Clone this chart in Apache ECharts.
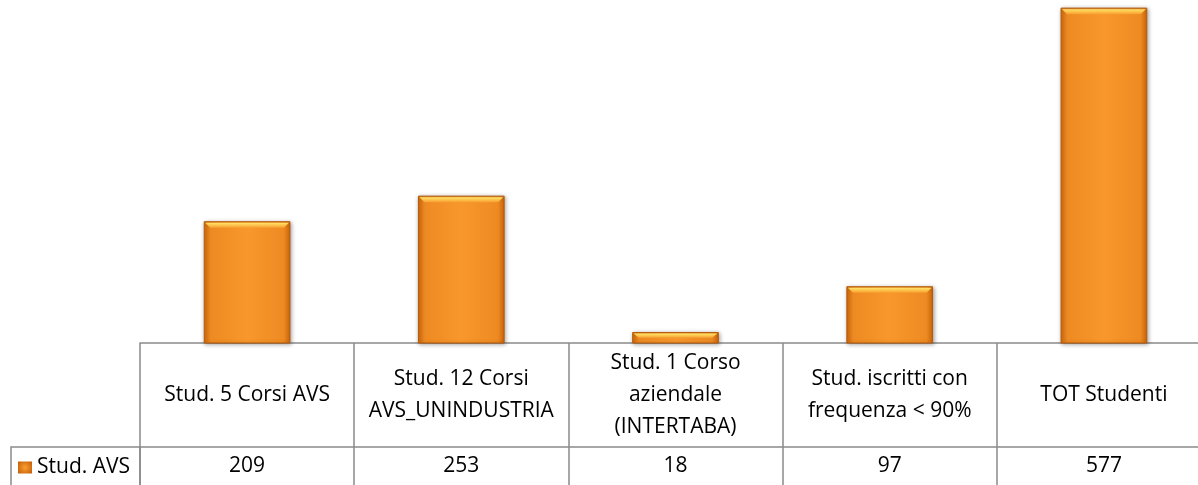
<!DOCTYPE html>
<html>
<head>
<meta charset="utf-8">
<script src="https://cdn.jsdelivr.net/npm/echarts@6/dist/echarts.min.js"></script>
<style>
  html, body { margin: 0; padding: 0; background: #fff; }
  #chart { width: 1198px; height: 485px; }
</style>
</head>
<body>
<div id="chart"></div>
<script>
// Header cells of the data table (Excel wraps them)
const categories = [
  'Stud. 5 Corsi AVS',
  'Stud. 12 Corsi\nAVS_UNINDUSTRIA',
  'Stud. 1 Corso\naziendale\n(INTERTABA)',
  'Stud. iscritti con\nfrequenza < 90%',
  'TOT Studenti'
];
const seriesName = 'Stud. AVS';
const values = [209, 253, 18, 97, 577];

const font = '"Open Sans", "Noto Sans", sans-serif';
const gridLine = '#8a8a8a';

const bodyFill = new echarts.graphic.LinearGradient(0, 0, 1, 0, [
  { offset: 0, color: '#D56C0E' },
  { offset: 0.08, color: '#EE8A22' },
  { offset: 0.5, color: '#F8982C' },
  { offset: 0.92, color: '#EE8A22' },
  { offset: 1, color: '#CF670B' }
]);
const bevelFill = new echarts.graphic.LinearGradient(0, 0, 0, 1, [
  { offset: 0, color: '#FFE66A' },
  { offset: 1, color: '#F9A030' }
]);
const iconFill = new echarts.graphic.RadialGradient(0.5, 0.5, 0.7, [
  { offset: 0, color: '#F9A030' },
  { offset: 1, color: '#C8600A' }
]);

// bar with a light bevel on top, positioned through the axes
function renderBar(params, api) {
  const cat = api.value(0);
  const val = api.value(1);
  const top = api.coord([cat, val]);
  const base = api.coord([cat, 0]);
  const w = api.size([1, 0])[0] * 0.4;
  const x0 = top[0] - w / 2;
  const h = base[1] - top[1];
  const b = Math.min(6, h / 2);
  return {
    type: 'group',
    children: [
      {
        type: 'rect',
        shape: { x: x0, y: top[1], width: w, height: h },
        style: {
          fill: bodyFill,
          stroke: '#B65A0A',
          lineWidth: 1,
          shadowColor: 'rgba(0,0,0,0.35)',
          shadowBlur: 4,
          shadowOffsetX: 1,
          shadowOffsetY: 1
        }
      },
      {
        type: 'polygon',
        shape: {
          points: [
            [x0 + 1, top[1] + 1],
            [x0 + w - 1, top[1] + 1],
            [x0 + w - 6, top[1] + b],
            [x0 + 6, top[1] + b]
          ]
        },
        style: { fill: bevelFill }
      }
    ]
  };
}

const chart = echarts.init(document.getElementById('chart'), null, { renderer: 'canvas' });

chart.setOption({
  animation: false,
  backgroundColor: '#ffffff',
  textStyle: { fontFamily: font },
  legend: {
    data: [seriesName],
    left: 11,
    top: 447,
    padding: [10, 10, 14, 7],
    itemWidth: 14,
    itemHeight: 12,
    itemGap: 4,
    borderColor: gridLine,
    borderWidth: 1.5,
    borderRadius: 0,
    icon: 'rect',
    itemStyle: { color: iconFill },
    textStyle: { fontFamily: font, fontSize: 21, color: '#000', padding: [0, 0, 0, 0] }
  },
  grid: {
    left: 140,
    width: 1071,
    top: 0,
    bottom: 142,
    containLabel: false,
    outerBoundsMode: 'none'
  },
  xAxis: [
    {
      type: 'category',
      data: categories,
      position: 'bottom',
      boundaryGap: true,
      axisLine: { show: true, lineStyle: { color: gridLine, width: 1.5 } },
      axisTick: { show: true, length: 142, lineStyle: { color: gridLine, width: 1.5 } },
      axisLabel: {
        interval: 0,
        margin: 52,
        verticalAlign: 'middle',
        fontFamily: font,
        fontSize: 21,
        lineHeight: 32,
        color: '#000'
      },
      splitLine: { show: false }
    },
    {
      type: 'category',
      data: values.map(String),
      position: 'bottom',
      offset: 104,
      boundaryGap: true,
      axisLine: { show: true, lineStyle: { color: gridLine, width: 1.5 } },
      axisTick: { show: false },
      axisLabel: {
        interval: 0,
        margin: 19,
        verticalAlign: 'middle',
        fontFamily: font,
        fontSize: 21,
        color: '#000'
      }
    }
  ],
  yAxis: {
    type: 'value',
    min: 0,
    max: 591,
    show: false,
    splitLine: { show: false }
  },
  series: [
    {
      name: seriesName,
      type: 'custom',
      xAxisIndex: 0,
      renderItem: renderBar,
      encode: { x: 0, y: 1 },
      data: values.map((v, i) => [i, v]),
      itemStyle: { color: '#F08A20' },
      silent: true
    }
  ]
});

window.addEventListener('resize', () => chart.resize());
</script>
</body>
</html>
